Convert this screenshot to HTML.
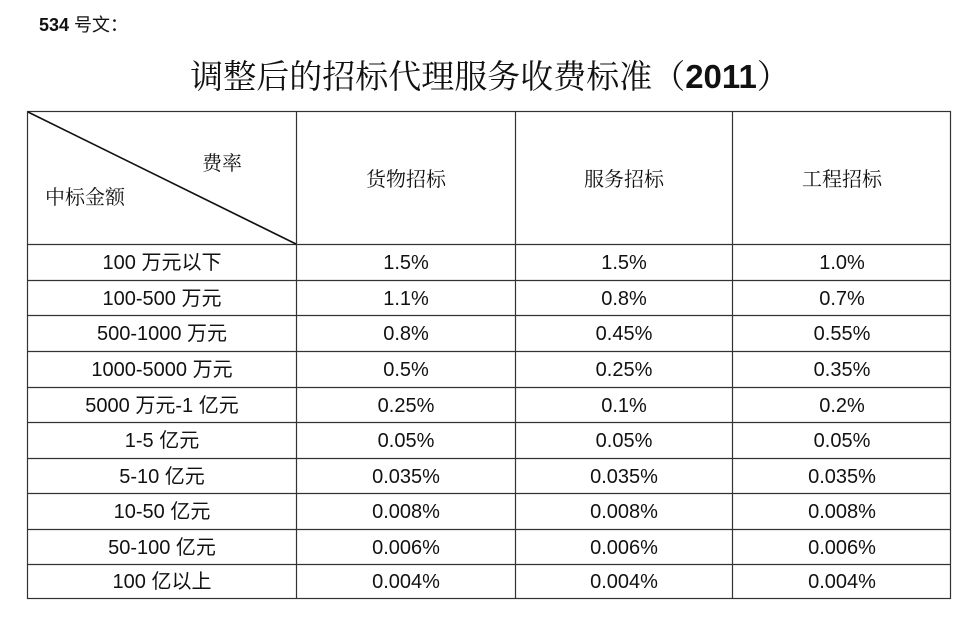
<!DOCTYPE html>
<html><head><meta charset="utf-8"><style>
body{margin:0;width:979px;height:629px;background:#fff;position:relative;overflow:hidden;font-family:"Liberation Sans","Noto Sans CJK SC",sans-serif;color:#111}
.t{position:absolute;white-space:nowrap;transform:translate(-50%,-50%);font-size:20px;line-height:22px}
.s{font-family:"Noto Serif CJK SC","Liberation Serif",serif}
</style></head><body>
<div style="position:absolute;left:39px;top:14px;font-size:18px;font-weight:bold;line-height:22px">534 <span style="font-weight:normal">号文：</span></div>
<div class="t s" style="left:490px;top:76px;font-size:33px;line-height:38px">调整后的招标代理服务收费标准（<b style="font-family:'Liberation Sans',sans-serif">2011</b>）</div>
<svg style="position:absolute;left:0;top:0" width="979" height="629">
<g stroke="#333" stroke-width="1.2" fill="none">
<rect x="27.5" y="111.5" width="923" height="487"/>
<line x1="296.5" y1="111" x2="296.5" y2="598"/>
<line x1="515.5" y1="111" x2="515.5" y2="598"/>
<line x1="732.5" y1="111" x2="732.5" y2="598"/>
<line x1="27" y1="244.5" x2="951" y2="244.5"/>
<line x1="27" y1="280.5" x2="951" y2="280.5"/>
<line x1="27" y1="315.5" x2="951" y2="315.5"/>
<line x1="27" y1="351.5" x2="951" y2="351.5"/>
<line x1="27" y1="387.5" x2="951" y2="387.5"/>
<line x1="27" y1="422.5" x2="951" y2="422.5"/>
<line x1="27" y1="458.5" x2="951" y2="458.5"/>
<line x1="27" y1="493.5" x2="951" y2="493.5"/>
<line x1="27" y1="529.5" x2="951" y2="529.5"/>
<line x1="27" y1="564.5" x2="951" y2="564.5"/>
<line x1="28" y1="112" x2="296" y2="244" stroke="#111" stroke-width="1.6"/>
</g></svg>
<div class="t s" style="left:222px;top:162px">费率</div>
<div class="t s" style="left:85px;top:196px">中标金额</div>
<div class="t s" style="left:406px;top:178px">货物招标</div>
<div class="t s" style="left:624px;top:178px">服务招标</div>
<div class="t s" style="left:842px;top:178px">工程招标</div>
<div id="rows"></div>
<script>
var d=[["100 万元以下","1.5%","1.5%","1.0%"],["100-500 万元","1.1%","0.8%","0.7%"],["500-1000 万元","0.8%","0.45%","0.55%"],["1000-5000 万元","0.5%","0.25%","0.35%"],["5000 万元-1 亿元","0.25%","0.1%","0.2%"],["1-5 亿元","0.05%","0.05%","0.05%"],["5-10 亿元","0.035%","0.035%","0.035%"],["10-50 亿元","0.008%","0.008%","0.008%"],["50-100 亿元","0.006%","0.006%","0.006%"],["100 亿以上","0.004%","0.004%","0.004%"]];
var ys=[244,280,315,351,387,422,458,493,529,564,598],xs=[162,406,624,842],h="";
d.forEach(function(r,i){var y=(ys[i]+ys[i+1])/2+1;r.forEach(function(c,j){h+='<div class="t" style="left:'+xs[j]+'px;top:'+y+'px">'+c+'</div>';});});
document.getElementById("rows").innerHTML=h;
</script>
</body></html>
